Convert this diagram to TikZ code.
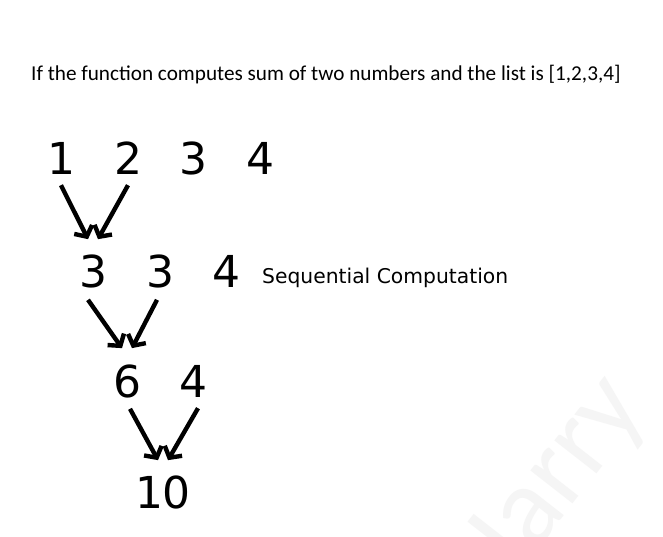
\documentclass[tikz,border=0pt]{standalone}
\usepackage{fontspec}
\setmainfont{Carlito}
\newfontfamily\numfont{DejaVu Sans}
\usetikzlibrary{arrows.meta}

\begin{document}
\begin{tikzpicture}[
    x=1pt, y=-1pt,
    num/.style={font=\numfont\fontsize{44}{44}\selectfont, inner sep=0pt, anchor=base},
    arrow/.style={-{Straight Barb[length=8pt, width=20pt]}, line width=4.4pt}
]
\useasboundingbox[fill=white] (0,0) rectangle (663,537);
\clip (0,0) rectangle (663,537);
% watermark
\node[font=\fontsize{112}{112}\selectfont, text=gray!8, rotate=52, anchor=base west] (mark) at (490,610) {Harry};
% heading
\node[font=\fontsize{21.2}{21.2}\selectfont, anchor=base west, inner sep=0pt] (title) at (31,81) {If the function computes sum of two numbers and the list is [1,2,3,4]};
% first row
\node[num] (a1) at (61,175) {1};
\node[num] (a2) at (128,175) {2};
\node[num] (a3) at (193,175) {3};
\node[num] (a4) at (260,175) {4};
% second row
\node[num] (b1) at (93,287) {3};
\node[num] (b2) at (160,287) {3};
\node[num] (b3) at (226,287) {4};
\node[font=\numfont\fontsize{20.3}{20.3}\selectfont, anchor=base west, inner sep=0pt] (label) at (262,283) {Sequential Computation};
% third row
\node[num] (c1) at (127,397) {6};
\node[num] (c2) at (193,397) {4};
% result
\node[num] (d1) at (163,508) {10};
% reductions
\draw[arrow] ([yshift=-10pt]a1.south) -- ([xshift=-5pt, yshift=15pt]b1.north);
\draw[arrow] ([yshift=-10pt]a2.south) -- ([xshift=5pt, yshift=15pt]b1.north);
\draw[arrow] ([xshift=-5pt, yshift=-12pt]b1.south) -- ([xshift=-5pt, yshift=16pt]c1.north);
\draw[arrow] ([xshift=-3pt, yshift=-12pt]b2.south) -- ([xshift=5pt, yshift=16pt]c1.north);
\draw[arrow] ([xshift=3pt, yshift=-11pt]c1.south) -- ([xshift=-5pt, yshift=15pt]d1.north);
\draw[arrow] ([xshift=5pt, yshift=-11pt]c2.south) -- ([xshift=5pt, yshift=15pt]d1.north);
\end{tikzpicture}
\end{document}
